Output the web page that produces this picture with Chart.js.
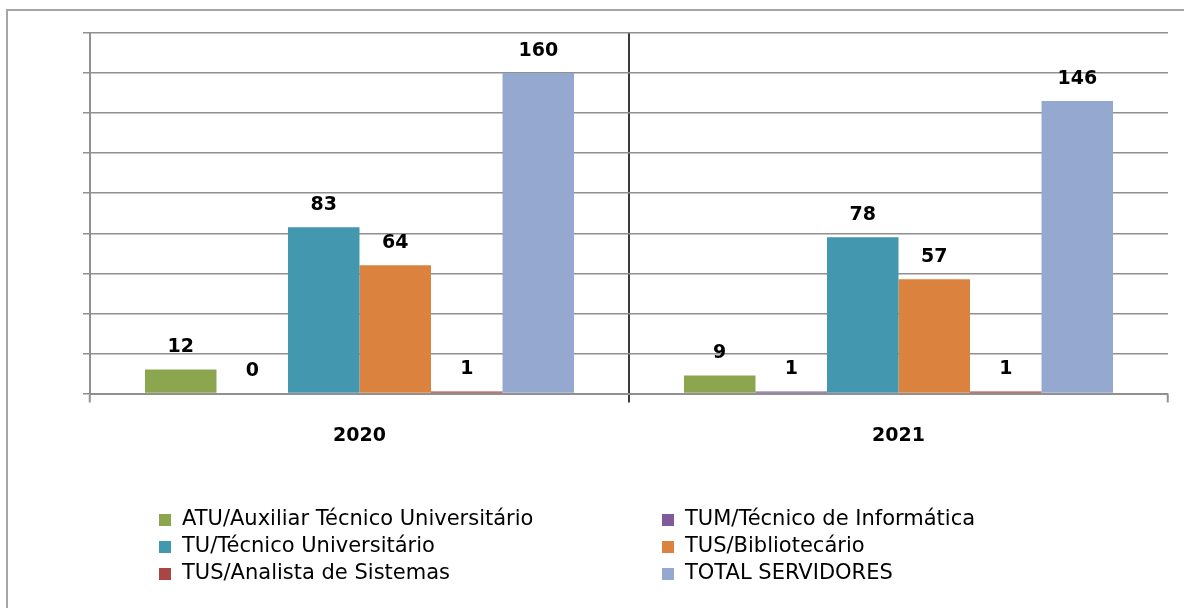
<!DOCTYPE html>
<html>
<head>
<meta charset="utf-8">
<script src="https://cdn.jsdelivr.net/npm/chart.js@4/dist/chart.umd.min.js"></script>
<style>
  html, body { margin: 0; padding: 0; background: #ffffff; }
  #wrap { width: 1184px; height: 608px; position: relative; }
</style>
</head>
<body>
<div id="wrap"><canvas id="c" width="1184" height="608"></canvas></div>
<script>
const categories = ['2020', '2021'];
const seriesNames = [
  'ATU/Auxiliar Técnico Universitário',
  'TUM/Técnico de Informática',
  'TU/Técnico Universitário',
  'TUS/Bibliotecário',
  'TUS/Analista de Sistemas',
  'TOTAL SERVIDORES'
];
const atuValues = [12, 9];
const tumValues = [0, 1];
const tuValues = [83, 78];
const tusBibValues = [64, 57];
const tusAnaValues = [1, 1];
const totalValues = [160, 146];
const yTicks = [0, 20, 40, 60, 80, 100, 120, 140, 160, 180];

const seriesValues = [atuValues, tumValues, tuValues, tusBibValues, tusAnaValues, totalValues];
const seriesColors = ['#8CA64F', '#7F5B9B', '#4397AF', '#DB823E', '#A94543', '#95A9D0'];

const datasets = seriesNames.map((name, i) => ({
  label: name,
  data: seriesValues[i],
  backgroundColor: seriesColors[i],
  borderWidth: 0,
  categoryPercentage: 0.796,
  barPercentage: 1.0
}));

const frameAndLabels = {
  id: 'frameAndLabels',
  beforeDraw(chart) {
    const ctx = chart.ctx;
    ctx.save();
    ctx.strokeStyle = '#a6a6a6';
    ctx.lineWidth = 2;
    ctx.beginPath();
    ctx.moveTo(7, 608);
    ctx.lineTo(7, 10);
    ctx.lineTo(1184, 10);
    ctx.stroke();
    ctx.restore();
  },
  afterDatasetsDraw(chart) {
    const ctx = chart.ctx;
    ctx.save();
    ctx.font = 'bold 19px "DejaVu Sans"';
    ctx.fillStyle = '#000000';
    ctx.textAlign = 'center';
    ctx.textBaseline = 'middle';
    chart.data.datasets.forEach((ds, di) => {
      const meta = chart.getDatasetMeta(di);
      meta.data.forEach((bar, i) => {
        ctx.fillText(String(ds.data[i]), bar.x, bar.y - 22);
      });
    });
    ctx.restore();
  },
  afterDraw(chart) {
    const ctx = chart.ctx;
    const colX = [159, 662];
    const rowY = [519, 546, 573];
    ctx.save();
    ctx.font = '21px "DejaVu Sans"';
    ctx.textAlign = 'left';
    ctx.textBaseline = 'middle';
    chart.data.datasets.forEach((ds, i) => {
      const cx = colX[i % 2];
      const cy = rowY[Math.floor(i / 2)];
      ctx.fillStyle = ds.backgroundColor;
      ctx.fillRect(cx, cy - 5, 12, 12);
      ctx.fillStyle = '#000000';
      ctx.fillText(ds.label, cx + 23, cy + 1);
    });
    ctx.restore();
  }
};

new Chart(document.getElementById('c'), {
  type: 'bar',
  data: { labels: categories, datasets: datasets },
  plugins: [frameAndLabels],
  options: {
    responsive: false,
    animation: false,
    layout: { padding: { left: 83, right: 16, top: 33, bottom: 154.5 } },
    plugins: { legend: { display: false }, tooltip: { enabled: false } },
    scales: {
      x: {
        offset: true,
        grid: {
          offset: true,
          drawOnChartArea: true,
          color: (c) => c.index === 1 ? '#3a3a3a' : 'rgba(0,0,0,0)',
          lineWidth: (c) => c.index === 1 ? 2 : 1.5,
          tickColor: (c) => c.index === 1 ? '#3a3a3a' : '#909090',
          tickLength: 9,
          tickWidth: 2
        },
        border: { display: true, color: '#909090', width: 2 },
        ticks: {
          color: '#000000',
          font: { family: 'DejaVu Sans', size: 19, weight: 'bold' },
          padding: 22
        },
        afterFit: (s) => { s.height = 60; }
      },
      y: {
        min: 0,
        max: 180,
        afterBuildTicks: (s) => { s.ticks = yTicks.map(v => ({ value: v })); },
        grid: {
          color: '#909090',
          lineWidth: 1.5,
          tickLength: 7,
          tickColor: '#909090'
        },
        border: { display: true, color: '#909090', width: 2 },
        ticks: { display: false },
        afterFit: (s) => { s.width = 7; }
      }
    }
  }
});
</script>
</body>
</html>
